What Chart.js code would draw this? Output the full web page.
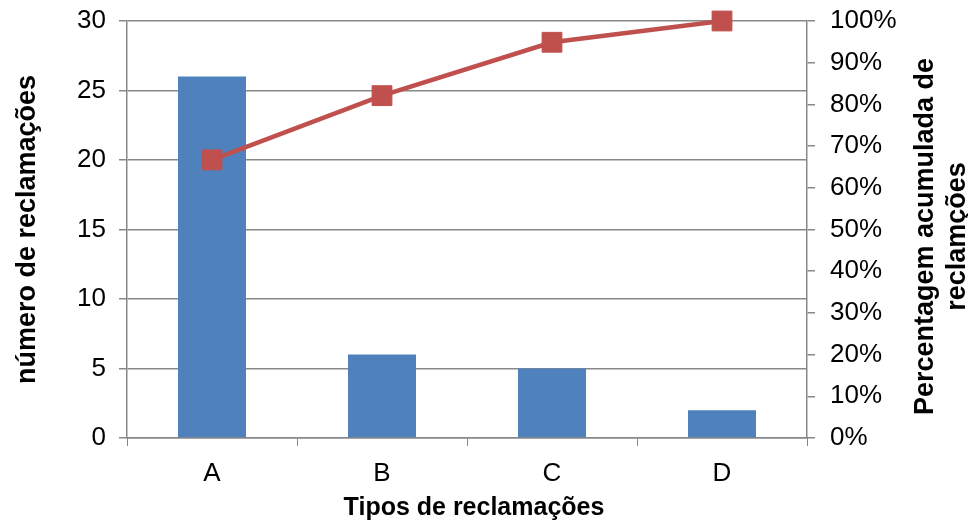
<!DOCTYPE html>
<html>
<head>
<meta charset="utf-8">
<script src="https://cdn.jsdelivr.net/npm/chart.js@4.4.0/dist/chart.umd.min.js"></script>
<style>
    html, body { margin: 0; padding: 0; background: #fff; }
    #wrap { width: 968px; height: 524px; }
</style>
</head>
<body>
<div id="wrap"><canvas id="pareto"></canvas></div>
<script>
// Data
const categories = ['A', 'B', 'C', 'D'];
const complaints = [26, 6, 5, 2];
const cumulativePct = [66.7, 82.1, 94.9, 100];

const countTicks = [0, 5, 10, 15, 20, 25, 30];
const pctTicks = [0, 10, 20, 30, 40, 50, 60, 70, 80, 90, 100];

const xTitle = 'Tipos de reclamações';
const leftTitle = 'número de reclamações';
const rightTitle = ['Percentagem acumulada de', 'reclamções'];

const FONT = '"Liberation Sans", Arial, sans-serif';
const GRID = '#888888';

// Axis titles drawn by hand (right one reads bottom-to-top like the original)
const axisTitles = {
    id: 'axisTitles',
    afterDraw(chart) {
        const ctx = chart.ctx;
        const area = chart.chartArea;
        const midY = (area.top + area.bottom) / 2;
        ctx.save();
        ctx.fillStyle = '#000';
        ctx.textAlign = 'center';
        ctx.textBaseline = 'middle';

        ctx.font = 'bold 25px ' + FONT;
        ctx.fillText(xTitle, (area.left + area.right) / 2 + 7, 508);

        ctx.font = 'bold 27px ' + FONT;
        ctx.save();
        ctx.translate(28, midY);
        ctx.rotate(-Math.PI / 2);
        ctx.fillText(leftTitle, 0, 0);
        ctx.restore();

        ctx.save();
        ctx.translate(926, midY + 7);
        ctx.rotate(-Math.PI / 2);
        ctx.fillText(rightTitle[0], 0, 0);
        ctx.fillText(rightTitle[1], 0, 32);
        ctx.restore();

        ctx.restore();
    }
};

// keep tick label overflow from pushing the plot area around
function fixedWidth(w) {
    return function(scale) {
        scale.width = w;
        scale.paddingTop = 0;
        scale.paddingBottom = 0;
    };
}

const ctx = document.getElementById('pareto').getContext('2d');
const paretoChart = new Chart(ctx, {
    data: {
        labels: categories,
        datasets: [
            {
                type: 'line',
                label: 'Percentagem acumulada',
                data: cumulativePct,
                yAxisID: 'y1',
                borderColor: '#C0504D',
                backgroundColor: '#C0504D',
                borderWidth: 4.5,
                pointStyle: 'rect',
                pointRadius: 14,
                pointBorderWidth: 1,
                pointBorderColor: '#C0504D',
                pointBackgroundColor: '#C0504D',
                tension: 0,
                clip: false,
                order: 0
            },
            {
                type: 'bar',
                label: 'número de reclamações',
                data: complaints,
                yAxisID: 'y',
                backgroundColor: '#4F81BD',
                categoryPercentage: 1,
                barPercentage: 0.4,
                order: 1
            }
        ]
    },
    options: {
        responsive: true,
        maintainAspectRatio: false,
        animation: false,
        layout: { padding: { top: 21, left: 0, right: 0, bottom: 0 } },
        plugins: {
            legend: { display: false },
            tooltip: { enabled: false }
        },
        scales: {
            x: {
                offset: true,
                grid: {
                    offset: true,
                    drawOnChartArea: false,
                    color: GRID,
                    tickLength: 8
                },
                border: { display: true, color: GRID, width: 1.5 },
                ticks: {
                    color: '#000',
                    font: { family: FONT, size: 26 },
                    padding: 12
                },
                afterFit: function(scale) {
                    scale.height = 86;
                    scale.paddingLeft = 0;
                    scale.paddingRight = 0;
                }
            },
            y: {
                position: 'left',
                min: 0,
                max: 30,
                afterBuildTicks: function(scale) {
                    scale.ticks = countTicks.map(v => ({ value: v }));
                },
                grid: {
                    color: GRID,
                    lineWidth: 1.5,
                    tickLength: 8
                },
                border: { display: true, color: GRID, width: 1.5 },
                ticks: {
                    color: '#000',
                    font: { family: FONT, size: 26 },
                    padding: 13
                },
                afterFit: fixedWidth(127)
            },
            y1: {
                position: 'right',
                min: 0,
                max: 100,
                afterBuildTicks: function(scale) {
                    scale.ticks = pctTicks.map(v => ({ value: v }));
                },
                grid: {
                    drawOnChartArea: false,
                    color: GRID,
                    lineWidth: 1.5,
                    tickLength: 8
                },
                border: { display: true, color: GRID, width: 1.5 },
                ticks: {
                    color: '#000',
                    font: { family: FONT, size: 26 },
                    padding: 15,
                    callback: function(value) { return value + '%'; }
                },
                afterFit: fixedWidth(161)
            }
        }
    },
    plugins: [axisTitles]
});
</script>
</body>
</html>
